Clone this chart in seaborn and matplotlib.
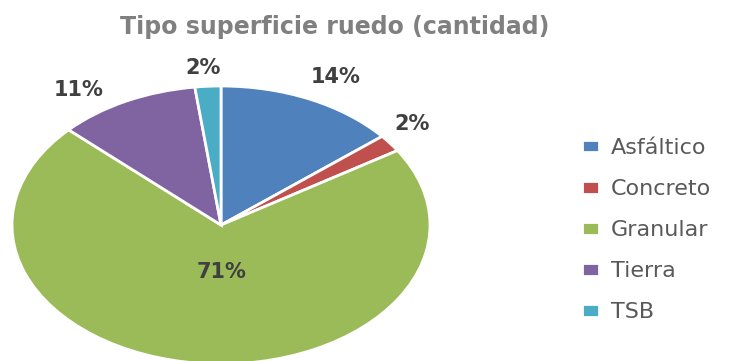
import matplotlib
matplotlib.use("Agg")
import matplotlib.pyplot as plt
import seaborn as sns
import numpy as np

# Road surface types and their share (%)
categories = ["Asfáltico", "Concreto", "Granular", "Tierra", "TSB"]
shares = [14, 2, 71, 11, 2]
colors = ["#4F81BD", "#C0504D", "#9BBB59", "#8064A2", "#4BACC6"]
title = "Tipo superficie ruedo (cantidad)"

sns.set_theme(style="white")
plt.rcParams["font.family"] = ["DejaVu Sans"]

W, H = 752, 361
fig = plt.figure(figsize=(W / 100, H / 100), dpi=100)
fig.patch.set_facecolor("white")

# pie area in pixels: centre (221, 225), radii 209 x 139
cx, cy, rx, ry = 221, 225, 209, 139
ax = fig.add_axes([(cx - rx) / W, (H - cy - ry) / H, 2 * rx / W, 2 * ry / H])

wedges, _ = ax.pie(
    shares,
    colors=colors,
    startangle=90,
    counterclock=False,
    wedgeprops=dict(edgecolor="white", linewidth=2),
)
ax.set_aspect("auto")
ax.set_xlim(-1, 1)
ax.set_ylim(-1, 1)
ax.axis("off")

# percentage labels: radial distance and angular nudge (deg) per wedge
label_r = [1.20, 1.17, 0.34, 1.19, 1.13]
label_nudge = [-2, 2.5, 6, 8, 0.7]
total = float(sum(shares))
for w, v, r, dn in zip(wedges, shares, label_r, label_nudge):
    mid = np.deg2rad((w.theta1 + w.theta2) / 2 + dn)
    ax.text(r * np.cos(mid), r * np.sin(mid), f"{v / total * 100:.0f}%",
            ha="center", va="center", fontsize=15, fontweight="bold",
            color="#404040", clip_on=False)

fig.text(335 / W, 1 - 27 / H, title, ha="center", va="center",
         fontsize=17, fontweight="bold", color="#808080")

leg = fig.legend(
    wedges, categories,
    loc="upper left", bbox_to_anchor=(582 / W, 1 - 138 / H),
    frameon=False, fontsize=16, labelcolor="#595959",
    handlelength=0.75, handleheight=0.5, handletextpad=0.55,
    labelspacing=0.95, borderpad=0, borderaxespad=0,
)

fig.savefig("out.png", dpi=100, facecolor="white")
